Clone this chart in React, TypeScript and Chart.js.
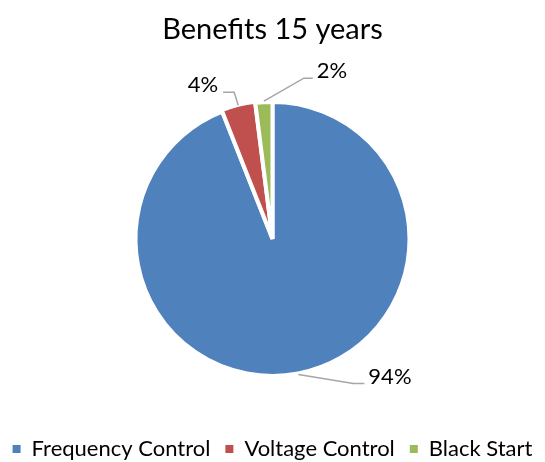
import React, { useEffect, useRef } from "react";
import { Chart, registerables } from "chart.js";

Chart.register(...registerables);

const titleText = "Benefits 15 years";
const categories = ["Frequency Control", "Voltage Control", "Black Start"];
const shares = [94, 4, 2];
const colors = ["#4F81BD", "#C0504D", "#9BBB59"];

// leader line geometry (style): first segment offset, horizontal run, text side
const leaderStyle = [
  { dx: 55, dy: 9, run: 11, side: "left" },
  { dx: -4, dy: -13, run: -11, side: "right" },
  { dx: 40, dy: -23, run: 9, side: "left" },
];

const FONT = "Lato, 'Open Sans', sans-serif";

const leaderPlugin = {
  id: "leaderLabels",
  afterDatasetsDraw(chart: any) {
    const ctx = chart.ctx;
    const meta = chart.getDatasetMeta(0);
    const data = chart.data.datasets[0].data as number[];
    const total = data.reduce((a, b) => a + b, 0);
    meta.data.forEach((arc: any, i: number) => {
      const { x, y, startAngle, endAngle, outerRadius } = arc.getProps(
        ["x", "y", "startAngle", "endAngle", "outerRadius"],
        true
      );
      const mid = (startAngle + endAngle) / 2;
      const sx = x + Math.cos(mid) * (outerRadius + 1);
      const sy = y + Math.sin(mid) * (outerRadius + 1);
      const st = leaderStyle[i];
      const ex = sx + st.dx;
      const ey = sy + st.dy;
      const fx = ex + st.run;
      ctx.save();
      ctx.strokeStyle = "#A6A6A6";
      ctx.lineWidth = 1.5;
      ctx.beginPath();
      ctx.moveTo(sx, sy);
      ctx.lineTo(ex, ey);
      ctx.lineTo(fx, ey);
      ctx.stroke();
      ctx.fillStyle = "#000";
      ctx.font = `22px ${FONT}`;
      ctx.textBaseline = "middle";
      const label = Math.round((data[i] / total) * 100) + "%";
      if (st.side === "left") {
        ctx.textAlign = "left";
        ctx.fillText(label, fx + 4, ey - 7);
      } else {
        ctx.textAlign = "right";
        ctx.fillText(label, fx - 5, ey - 7);
      }
      ctx.restore();
    });
  },
};

export default function App() {
  const ref = useRef<HTMLCanvasElement>(null);
  useEffect(() => {
    document.body.style.margin = "0";
    const baseGen = (Chart as any).overrides.pie.plugins.legend.labels.generateLabels;
    const chart = new Chart(ref.current!, {
      type: "pie",
      data: {
        labels: categories,
        datasets: [
          {
            data: shares,
            backgroundColor: colors,
            borderColor: "#FFFFFF",
            borderWidth: 4,
            offset: [0, 3, 0],
            radius: 137,
          } as any,
        ],
      },
      options: {
        animation: false,
        responsive: false,
        layout: { padding: { top: 0, bottom: -8, left: -20, right: -20 } },
        plugins: {
          title: {
            display: true,
            text: titleText,
            color: "#000",
            font: { family: FONT, size: 29, weight: "normal" },
            padding: { top: 12, bottom: 8 },
          },
          legend: {
            position: "bottom",
            labels: {
              color: "#000",
              font: { family: FONT, size: 22 },
              boxWidth: 8,
              boxHeight: 8,
              padding: 15,
              generateLabels: (chart: any) =>
                baseGen(chart).map((l: any) => ({ ...l, lineWidth: 0, strokeStyle: "transparent" })),
            },
          },
          tooltip: { enabled: false },
        },
      },
      plugins: [leaderPlugin],
    });
    return () => chart.destroy();
  }, []);
  return <canvas ref={ref} width={545} height={462} style={{ display: "block" }} />;
}
